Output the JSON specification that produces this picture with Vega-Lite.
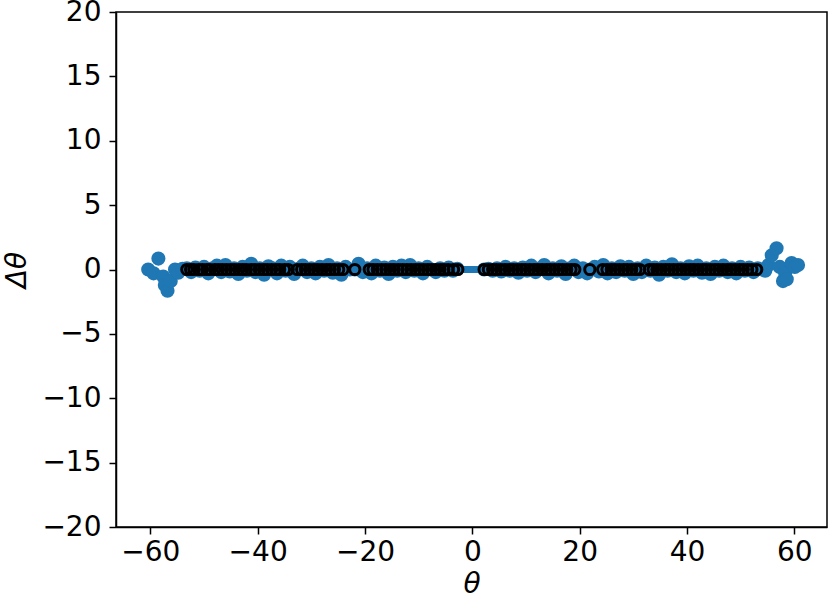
{
  "$schema": "https://vega.github.io/schema/vega-lite/v6.json",
  "width": 711,
  "height": 515,
  "autosize": {"type": "none"},
  "padding": {"left": 116, "top": 12, "right": 4, "bottom": 83},
  "background": "white",
  "config": {
    "view": {"stroke": "black", "strokeWidth": 1.5},
    "axis": {
      "grid": false,
      "domainColor": "black",
      "domainWidth": 1.5,
      "tickColor": "black",
      "tickWidth": 1.5,
      "tickSize": 7,
      "labelFont": "DejaVu Sans",
      "labelFontSize": 28,
      "labelColor": "black",
      "titleFont": "DejaVu Sans",
      "titleFontSize": 28,
      "titleFontWeight": "normal",
      "titleFontStyle": "italic",
      "titleColor": "black"
    }
  },
  "datasets": {
    "blue": [
      {"x": -60.4, "y": 0.0}, {"x": -59.4, "y": -0.3}, {"x": -58.5, "y": 0.85}, {"x": -57.6, "y": -0.55},
      {"x": -57.3, "y": -1.2}, {"x": -56.8, "y": -1.65}, {"x": -56.2, "y": -0.9}, {"x": -55.4, "y": 0.0},
      {"x": -54.8, "y": -0.25}, {"x": -54.0, "y": 0.05},
      {"x": -53.2, "y": 0.1}, {"x": -52.4, "y": -0.2}, {"x": -51.6, "y": 0.15}, {"x": -50.8, "y": -0.1},
      {"x": -50.0, "y": 0.2}, {"x": -49.2, "y": -0.3}, {"x": -48.4, "y": 0.1}, {"x": -47.6, "y": 0.3},
      {"x": -46.8, "y": -0.2}, {"x": -46.0, "y": 0.35}, {"x": -45.2, "y": -0.15}, {"x": -44.4, "y": 0.1},
      {"x": -43.6, "y": -0.35}, {"x": -42.8, "y": 0.2}, {"x": -42.0, "y": -0.1}, {"x": -41.2, "y": 0.45},
      {"x": -40.4, "y": -0.2}, {"x": -39.6, "y": 0.1}, {"x": -38.8, "y": -0.4}, {"x": -38.0, "y": 0.25},
      {"x": -37.2, "y": 0.1}, {"x": -36.4, "y": -0.3}, {"x": -35.6, "y": 0.3}, {"x": -34.8, "y": -0.1},
      {"x": -34.0, "y": 0.2}, {"x": -33.2, "y": -0.35}, {"x": -32.4, "y": 0.05}, {"x": -31.6, "y": 0.3},
      {"x": -30.8, "y": -0.2}, {"x": -30.0, "y": 0.1}, {"x": -29.2, "y": -0.3}, {"x": -28.4, "y": 0.2},
      {"x": -27.6, "y": -0.1}, {"x": -26.8, "y": 0.35}, {"x": -26.0, "y": -0.25}, {"x": -25.2, "y": 0.1},
      {"x": -24.4, "y": -0.4}, {"x": -23.6, "y": 0.2}, {"x": -22.8, "y": 0.0}, {"x": -21.9, "y": 0.0},
      {"x": -21.2, "y": 0.45}, {"x": -20.4, "y": -0.2}, {"x": -19.6, "y": 0.1}, {"x": -18.8, "y": -0.3},
      {"x": -18.0, "y": 0.3}, {"x": -17.2, "y": -0.1}, {"x": -16.4, "y": 0.15}, {"x": -15.6, "y": -0.35},
      {"x": -14.8, "y": 0.2}, {"x": -14.0, "y": -0.1}, {"x": -13.2, "y": 0.3}, {"x": -12.4, "y": -0.2},
      {"x": -11.6, "y": 0.35}, {"x": -10.8, "y": -0.1}, {"x": -10.0, "y": 0.1}, {"x": -9.2, "y": -0.3},
      {"x": -8.4, "y": 0.2}, {"x": -7.6, "y": 0.0}, {"x": -6.8, "y": -0.2}, {"x": -6.0, "y": 0.1},
      {"x": -5.2, "y": -0.1}, {"x": -4.4, "y": 0.15}, {"x": -3.6, "y": -0.1}, {"x": -2.8, "y": 0.05},
      {"x": 2.2, "y": 0.0}, {"x": 3.0, "y": 0.05}, {"x": 3.8, "y": -0.1}, {"x": 4.6, "y": 0.1},
      {"x": 5.4, "y": -0.15}, {"x": 6.2, "y": 0.2}, {"x": 7.0, "y": -0.1}, {"x": 7.8, "y": 0.1},
      {"x": 8.6, "y": -0.25}, {"x": 9.4, "y": 0.15}, {"x": 10.2, "y": -0.1}, {"x": 11.0, "y": 0.3},
      {"x": 11.8, "y": -0.2}, {"x": 12.6, "y": 0.1}, {"x": 13.4, "y": 0.35}, {"x": 14.2, "y": -0.3},
      {"x": 15.0, "y": 0.1}, {"x": 15.8, "y": -0.1}, {"x": 16.6, "y": 0.25}, {"x": 17.4, "y": -0.35},
      {"x": 18.2, "y": 0.1}, {"x": 19.0, "y": 0.3}, {"x": 19.8, "y": -0.2}, {"x": 20.6, "y": 0.1},
      {"x": 21.4, "y": -0.3}, {"x": 21.9, "y": 0.0}, {"x": 22.8, "y": 0.2}, {"x": 23.6, "y": -0.15},
      {"x": 24.4, "y": 0.35}, {"x": 25.2, "y": -0.3}, {"x": 26.0, "y": 0.1}, {"x": 26.8, "y": -0.2},
      {"x": 27.6, "y": 0.25}, {"x": 28.4, "y": -0.1}, {"x": 29.2, "y": 0.2}, {"x": 30.0, "y": -0.35},
      {"x": 30.8, "y": 0.1}, {"x": 31.6, "y": -0.2}, {"x": 32.4, "y": 0.3}, {"x": 33.2, "y": -0.1},
      {"x": 34.0, "y": 0.15}, {"x": 34.8, "y": -0.4}, {"x": 35.6, "y": 0.2}, {"x": 36.4, "y": -0.1},
      {"x": 37.2, "y": 0.4}, {"x": 38.0, "y": -0.2}, {"x": 38.8, "y": 0.1}, {"x": 39.6, "y": -0.3},
      {"x": 40.4, "y": 0.25}, {"x": 41.2, "y": -0.1}, {"x": 42.0, "y": 0.3}, {"x": 42.8, "y": -0.25},
      {"x": 43.6, "y": 0.1}, {"x": 44.4, "y": -0.35}, {"x": 45.2, "y": 0.2}, {"x": 46.0, "y": -0.1},
      {"x": 46.8, "y": 0.3}, {"x": 47.6, "y": -0.2}, {"x": 48.4, "y": 0.1}, {"x": 49.2, "y": -0.3},
      {"x": 50.0, "y": 0.2}, {"x": 50.8, "y": -0.1}, {"x": 51.6, "y": 0.15}, {"x": 52.4, "y": -0.2},
      {"x": 53.2, "y": 0.1}, {"x": 54.0, "y": 0.0}, {"x": 54.6, "y": -0.1},
      {"x": 55.2, "y": 0.35}, {"x": 55.8, "y": 1.1}, {"x": 56.7, "y": 1.65}, {"x": 57.3, "y": 0.2},
      {"x": 57.9, "y": -0.9}, {"x": 58.3, "y": -0.3}, {"x": 58.6, "y": -0.75}, {"x": 59.5, "y": 0.5},
      {"x": 60.1, "y": 0.2}, {"x": 60.7, "y": 0.35}
    ],
    "band": [
      {"x": -2.8, "y": 0}, {"x": 2.2, "y": 0}
    ],
    "rings": [
      {"x": -53.2, "y": 0}, {"x": -52.5, "y": 0}, {"x": -51.9, "y": 0}, {"x": -51.0, "y": 0},
      {"x": -50.3, "y": 0}, {"x": -49.5, "y": 0}, {"x": -48.9, "y": 0}, {"x": -48.0, "y": 0},
      {"x": -47.3, "y": 0}, {"x": -46.6, "y": 0}, {"x": -45.8, "y": 0}, {"x": -45.0, "y": 0},
      {"x": -44.3, "y": 0}, {"x": -43.5, "y": 0}, {"x": -42.8, "y": 0}, {"x": -42.1, "y": 0},
      {"x": -41.2, "y": 0}, {"x": -40.5, "y": 0}, {"x": -39.7, "y": 0}, {"x": -38.9, "y": 0},
      {"x": -38.2, "y": 0}, {"x": -37.4, "y": 0}, {"x": -36.6, "y": 0}, {"x": -35.9, "y": 0},
      {"x": -35.0, "y": 0}, {"x": -34.3, "y": 0}, {"x": -32.6, "y": 0}, {"x": -31.8, "y": 0},
      {"x": -31.1, "y": 0}, {"x": -30.3, "y": 0}, {"x": -29.5, "y": 0}, {"x": -28.8, "y": 0},
      {"x": -28.0, "y": 0}, {"x": -27.2, "y": 0}, {"x": -26.5, "y": 0}, {"x": -25.7, "y": 0},
      {"x": -24.9, "y": 0}, {"x": -24.1, "y": 0}, {"x": -21.9, "y": 0}, {"x": -19.2, "y": 0},
      {"x": -18.5, "y": 0}, {"x": -17.7, "y": 0}, {"x": -16.9, "y": 0}, {"x": -16.1, "y": 0},
      {"x": -15.3, "y": 0}, {"x": -14.6, "y": 0}, {"x": -13.8, "y": 0}, {"x": -13.0, "y": 0},
      {"x": -12.2, "y": 0}, {"x": -11.4, "y": 0}, {"x": -10.6, "y": 0}, {"x": -9.9, "y": 0},
      {"x": -9.1, "y": 0}, {"x": -8.3, "y": 0}, {"x": -7.6, "y": 0}, {"x": -6.8, "y": 0},
      {"x": -6.0, "y": 0}, {"x": -5.3, "y": 0}, {"x": -4.5, "y": 0}, {"x": -3.5, "y": 0},
      {"x": -2.7, "y": 0},
      {"x": 2.2, "y": 0}, {"x": 3.0, "y": 0}, {"x": 3.8, "y": 0}, {"x": 4.5, "y": 0},
      {"x": 5.3, "y": 0}, {"x": 6.1, "y": 0}, {"x": 6.9, "y": 0}, {"x": 7.6, "y": 0},
      {"x": 8.4, "y": 0}, {"x": 9.2, "y": 0}, {"x": 9.9, "y": 0}, {"x": 10.7, "y": 0},
      {"x": 11.5, "y": 0}, {"x": 12.2, "y": 0}, {"x": 13.0, "y": 0}, {"x": 13.8, "y": 0},
      {"x": 14.5, "y": 0}, {"x": 15.3, "y": 0}, {"x": 16.1, "y": 0}, {"x": 16.8, "y": 0},
      {"x": 17.6, "y": 0}, {"x": 18.4, "y": 0}, {"x": 19.1, "y": 0}, {"x": 21.9, "y": 0},
      {"x": 24.3, "y": 0}, {"x": 25.1, "y": 0}, {"x": 25.9, "y": 0}, {"x": 26.6, "y": 0},
      {"x": 27.4, "y": 0}, {"x": 28.2, "y": 0}, {"x": 28.9, "y": 0}, {"x": 29.7, "y": 0},
      {"x": 30.5, "y": 0}, {"x": 31.2, "y": 0}, {"x": 33.0, "y": 0}, {"x": 33.7, "y": 0},
      {"x": 34.4, "y": 0}, {"x": 35.2, "y": 0}, {"x": 36.0, "y": 0}, {"x": 36.7, "y": 0},
      {"x": 37.5, "y": 0}, {"x": 38.3, "y": 0}, {"x": 39.0, "y": 0}, {"x": 39.8, "y": 0},
      {"x": 40.6, "y": 0}, {"x": 41.3, "y": 0}, {"x": 42.1, "y": 0}, {"x": 42.9, "y": 0},
      {"x": 43.6, "y": 0}, {"x": 44.4, "y": 0}, {"x": 45.2, "y": 0}, {"x": 45.9, "y": 0},
      {"x": 46.7, "y": 0}, {"x": 47.5, "y": 0}, {"x": 48.2, "y": 0}, {"x": 49.0, "y": 0},
      {"x": 49.8, "y": 0}, {"x": 50.5, "y": 0}, {"x": 51.3, "y": 0}, {"x": 52.1, "y": 0},
      {"x": 53.0, "y": 0}
    ]
  },
  "encoding": {
    "x": {
      "field": "x", "type": "quantitative",
      "scale": {"domain": [-66.4, 66.1], "nice": false, "zero": false},
      "axis": {"values": [-60, -40, -20, 0, 20, 40, 60], "title": "θ", "labelPadding": 4, "titlePadding": 4}
    },
    "y": {
      "field": "y", "type": "quantitative",
      "scale": {"domain": [-20, 20], "nice": false},
      "axis": {"values": [-20, -15, -10, -5, 0, 5, 10, 15, 20], "title": "Δθ", "labelPadding": 8, "titlePadding": 10}
    }
  },
  "layer": [
    {
      "data": {"name": "blue"},
      "mark": {"type": "point", "shape": "circle", "filled": true, "color": "#1f77b4", "opacity": 1, "size": 200}
    },
    {
      "data": {"name": "band"},
      "mark": {"type": "line", "color": "#1f77b4", "strokeWidth": 7}
    },
    {
      "data": {"name": "rings"},
      "mark": {"type": "point", "shape": "circle", "filled": false, "stroke": "black", "strokeWidth": 3, "opacity": 1, "size": 105}
    }
  ]
}
